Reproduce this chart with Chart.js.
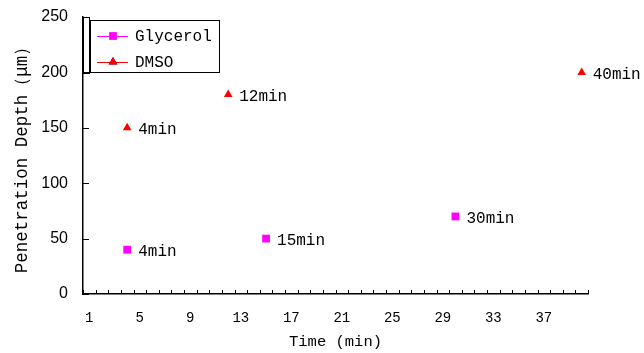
<!DOCTYPE html>
<html>
<head>
<meta charset="utf-8">
<script src="https://cdn.jsdelivr.net/npm/chart.js@4.4.1/dist/chart.umd.min.js"></script>
<style>
  html, body { margin: 0; padding: 0; background: #fff; }
</style>
</head>
<body>
<canvas id="grafico" width="644" height="353"></canvas>
<script>
// dati
const glycerolX = [4, 15, 30];
const glycerolY = [40, 50, 70];
const glycerolLabels = ['4min', '15min', '30min'];

const dmsoX = [4, 12, 40];
const dmsoY = [150, 180, 200];
const dmsoLabels = ['4min', '12min', '40min'];

const xTickLabels = [1, 5, 9, 13, 17, 21, 25, 29, 33, 37];
const yTicks = [0, 50, 100, 150, 200, 250];
const nCategorie = 40;

const monoFont = '"Liberation Mono", "DejaVu Sans Mono", monospace';
const puntiLabels = [glycerolLabels, dmsoLabels];

// tacche interne, etichette dei punti e legenda
const extraPlugin = {
    id: 'extra',
    afterDatasetsDraw: function (chart) {
        const ctx = chart.ctx;
        const xs = chart.scales.x, ys = chart.scales.y;
        const area = chart.chartArea;
        ctx.save();
        ctx.strokeStyle = '#000';
        ctx.lineWidth = 1;
        // tacche asse x, tra le categorie
        for (let i = 0; i <= nCategorie; i++) {
            const px = Math.round(xs.getPixelForValue(i + 0.5)) + 0.5;
            ctx.beginPath();
            ctx.moveTo(px, area.bottom);
            ctx.lineTo(px, area.bottom - 4);
            ctx.stroke();
        }
        // tacche asse y
        yTicks.forEach(function (v) {
            const py = Math.round(ys.getPixelForValue(v)) + 0.5;
            ctx.beginPath();
            ctx.moveTo(area.left, py);
            ctx.lineTo(area.left + 6, py);
            ctx.stroke();
        });

        // etichette accanto ai punti
        ctx.fillStyle = '#000';
        ctx.font = '16px ' + monoFont;
        ctx.textAlign = 'left';
        ctx.textBaseline = 'middle';
        chart.data.datasets.forEach(function (ds, i) {
            chart.getDatasetMeta(i).data.forEach(function (el, j) {
                ctx.fillText(puntiLabels[i][j], el.x + 11, el.y + 2);
            });
        });

        // legenda
        const lx = area.left + 7, ly = area.top + 3;
        ctx.lineWidth = 1;
        ctx.strokeRect(area.left + 0.5, area.top + 0.5, 6, 56);
        ctx.fillStyle = '#fff';
        ctx.fillRect(lx, ly, 129, 52);
        ctx.strokeRect(lx + 0.5, ly + 0.5, 129, 52);
        const voci = [
            { testo: 'Glycerol', colore: '#FF00FF', stile: 'rect', r: 5.5, y: ly + 16 },
            { testo: 'DMSO', colore: '#FF0000', stile: 'triangle', r: 5, y: ly + 42 }
        ];
        voci.forEach(function (v) {
            ctx.strokeStyle = v.colore;
            ctx.beginPath();
            ctx.moveTo(lx + 7, v.y + 0.5);
            ctx.lineTo(lx + 38, v.y + 0.5);
            ctx.stroke();
            Chart.helpers.drawPoint(ctx, {
                pointStyle: v.stile, radius: v.r, borderWidth: 0
            }, lx + 23, v.y);
            ctx.fillStyle = v.colore;
            ctx.fill();
            ctx.fillStyle = '#000';
            ctx.font = '16px ' + monoFont;
            ctx.textAlign = 'left';
            ctx.textBaseline = 'middle';
            ctx.fillText(v.testo, lx + 45, v.y + 1);
        });
        ctx.restore();
    }
};

new Chart(document.getElementById('grafico').getContext('2d'), {
    type: 'scatter',
    data: {
        datasets: [{
            label: 'Glycerol',
            data: glycerolX.map((x, i) => ({ x: x, y: glycerolY[i] })),
            backgroundColor: '#FF00FF',
            borderColor: '#FF00FF',
            pointStyle: 'rect',
            pointRadius: 5.5,
            pointBorderWidth: 0
        }, {
            label: 'DMSO',
            data: dmsoX.map((x, i) => ({ x: x, y: dmsoY[i] })),
            backgroundColor: '#FF0000',
            borderColor: '#FF0000',
            pointStyle: 'triangle',
            pointRadius: 5,
            pointBorderWidth: 0
        }]
    },
    options: {
        responsive: false,
        animation: false,
        events: [],
        layout: { padding: { top: 17, right: 56, left: 0, bottom: 0 } },
        plugins: {
            legend: { display: false },
            tooltip: { enabled: false }
        },
        scales: {
            x: {
                type: 'linear',
                min: 0.5,
                max: nCategorie + 0.5,
                afterBuildTicks: function (scale) {
                    scale.ticks = xTickLabels.map(v => ({ value: v }));
                },
                afterFit: function (scale) {
                    scale.height = 59;
                    scale.paddingLeft = 0;
                    scale.paddingRight = 0;
                },
                grid: { drawOnChartArea: false, drawTicks: false },
                border: { color: '#000', width: 1.5 },
                ticks: {
                    autoSkip: false,
                    maxRotation: 0,
                    padding: 16,
                    color: '#000',
                    font: { family: monoFont, size: 14 },
                    callback: v => String(v)
                },
                title: {
                    display: true,
                    text: 'Time (min)',
                    color: '#000',
                    font: { family: monoFont, size: 15.5 },
                    padding: { top: 0, bottom: 2 }
                }
            },
            y: {
                min: 0,
                max: 250,
                afterBuildTicks: function (scale) {
                    scale.ticks = yTicks.map(v => ({ value: v }));
                },
                afterFit: function (scale) {
                    scale.width = 83;
                    scale.paddingTop = 0;
                    scale.paddingBottom = 0;
                },
                grid: { drawOnChartArea: false, drawTicks: false },
                border: { color: '#000', width: 1.5 },
                ticks: {
                    padding: 15,
                    color: '#000',
                    font: { family: '"Liberation Sans", Arial, sans-serif', size: 16 }
                },
                title: {
                    display: true,
                    text: 'Penetration Depth（μm）',
                    color: '#000',
                    font: { family: monoFont, size: 17.5 },
                    padding: { top: 12, bottom: 0 }
                }
            }
        }
    },
    plugins: [extraPlugin]
});
</script>
</body>
</html>
